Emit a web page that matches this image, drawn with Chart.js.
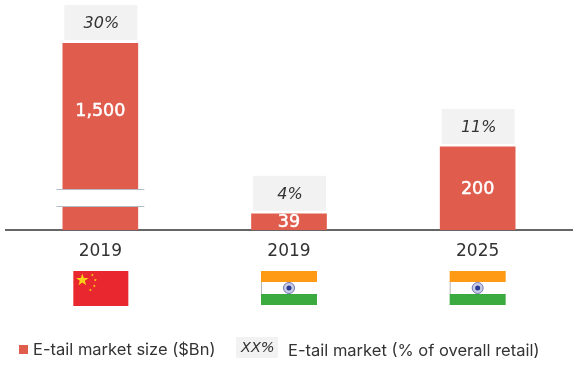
<!DOCTYPE html>
<html>
<head>
<meta charset="utf-8">
<script src="https://cdn.jsdelivr.net/npm/chart.js@4"></script>
<style>
  html, body { margin: 0; padding: 0; background: #fff; }
  #box { width: 576px; height: 376px; }
</style>
</head>
<body>
<div id="box"><canvas id="chart"></canvas></div>
<script>
const categories = ["2019", "2019", "2025"];
const marketSize = [1500, 39, 200];
const marketLabels = ["1,500", "39", "200"];
const retailShare = ["30%", "4%", "11%"];
const countries = ["china", "india", "india"];
// the China bar runs past the top of the axis, the break marks that
const axisMax = 450;
const brokenBar = 0;

const red = "#E05C4D";
const numFont = "'DejaVu Sans', sans-serif";
const legendFont = "Inter, sans-serif";

function drawFlag(ctx, country, cx) {
  const x = cx - 28, y = 271, w = 56, h = 35;
  if (country === "china") {
    ctx.fillStyle = "#E8282E";
    ctx.fillRect(x + 1, y, w - 1, h);
    ctx.fillStyle = "#FCD116";
    star(ctx, x + 10, y + 9, 6.5);
    [[20, 4], [23, 9], [22, 15], [18, 19]].forEach(p => star(ctx, x + p[0], y + p[1], 1.6));
  } else {
    ctx.fillStyle = "#fff";
    ctx.fillRect(x, y, w, h - 1);
    ctx.fillStyle = "#B8B8B8";
    ctx.fillRect(x, y + 11, 1, 12);
    ctx.fillStyle = "#FF9A14";
    ctx.fillRect(x, y, w, 11);
    ctx.fillStyle = "#3BAA3F";
    ctx.fillRect(x, y + 23, w, 11);
    ctx.fillStyle = "#C9CCE4";
    ctx.beginPath();
    ctx.arc(cx, y + 17, 5.5, 0, Math.PI * 2);
    ctx.fill();
    ctx.strokeStyle = "#6F78B8";
    ctx.lineWidth = 1;
    ctx.stroke();
    ctx.fillStyle = "#2A3A94";
    ctx.beginPath();
    ctx.arc(cx, y + 17, 2.5, 0, Math.PI * 2);
    ctx.fill();
  }
}

function star(ctx, cx, cy, r) {
  ctx.beginPath();
  for (let i = 0; i < 10; i++) {
    const a = -Math.PI / 2 + i * Math.PI / 5;
    const d = i % 2 ? r * 0.4 : r;
    ctx.lineTo(cx + d * Math.cos(a), cy + d * Math.sin(a));
  }
  ctx.closePath();
  ctx.fill();
}

const extras = {
  id: "extras",
  afterDatasetsDraw(chart) {
    const ctx = chart.ctx;
    const bars = chart.getDatasetMeta(0).data;
    const top = chart.chartArea.top;
    const bottom = chart.chartArea.bottom;
    ctx.save();
    ctx.textAlign = "center";
    ctx.textBaseline = "middle";

    // axis break on the China bar
    const bx = bars[brokenBar].x;
    ctx.fillStyle = "#fff";
    ctx.fillRect(bx - 44, 190, 88, 16);
    ctx.strokeStyle = "#B4BCC8";
    ctx.lineWidth = 1;
    ctx.beginPath();
    ctx.moveTo(bx - 44, 189.5);
    ctx.lineTo(bx + 44, 189.5);
    ctx.moveTo(bx - 44, 206.5);
    ctx.lineTo(bx + 44, 206.5);
    ctx.stroke();

    bars.forEach((bar, i) => {
      const barTop = Math.max(bar.y, top);
      // value inside the bar, stroked a little because the original is heavier
      ctx.fillStyle = "#fff";
      ctx.strokeStyle = "#fff";
      ctx.lineWidth = 0.5;
      ctx.font = "17.5px " + numFont;
      const ly = (i === brokenBar ? barTop + 67 : (barTop + bottom) / 2) + 1;
      ctx.fillText(marketLabels[i], bar.x, ly);
      ctx.strokeText(marketLabels[i], bar.x, ly);
      // share of retail above the bar
      ctx.fillStyle = "#F2F2F2";
      ctx.fillRect(bar.x - 36, barTop - 38, 73, 35);
      ctx.fillStyle = "#333";
      ctx.font = "italic 16px " + numFont;
      ctx.fillText(retailShare[i], bar.x + 1, barTop - 19);
      drawFlag(ctx, countries[i], bar.x);
    });

    // legend
    ctx.textAlign = "left";
    ctx.fillStyle = red;
    ctx.fillRect(19, 345, 9, 9);
    ctx.fillStyle = "#333";
    ctx.font = "16.5px " + legendFont;
    ctx.fillText("E-tail market size ($Bn)", 33, 350);
    ctx.fillStyle = "#F2F2F2";
    ctx.fillRect(236, 337, 42, 21);
    ctx.fillStyle = "#333";
    ctx.font = "italic 14.5px " + numFont;
    ctx.fillText("XX%", 241, 348);
    ctx.font = "16.5px " + legendFont;
    ctx.fillText("E-tail market (% of overall retail)", 288, 351);
    ctx.restore();
  }
};

new Chart(document.getElementById("chart"), {
  type: "bar",
  data: {
    labels: categories,
    datasets: [
      {
        data: marketSize,
        backgroundColor: red,
        barThickness: 75,
        label: "E-tail market size ($Bn)",
      },
    ],
  },
  options: {
    responsive: true,
    maintainAspectRatio: false,
    animation: false,
    layout: { padding: { top: 43, left: 6, right: 4, bottom: 0 } },
    scales: {
      x: {
        grid: { display: true, drawOnChartArea: false, drawTicks: false },
        border: { color: "#666", width: 2 },
        ticks: {
          color: "#333",
          padding: 11,
          maxRotation: 0,
          font: { family: numFont, size: 17 },
        },
        afterFit(scale) {
          scale.height = 146;
        },
      },
      y: {
        display: false,
        min: 0,
        max: axisMax,
      },
    },
    plugins: {
      legend: { display: false },
      tooltip: { enabled: false },
    },
  },
  plugins: [extras],
});
</script>
</body>
</html>
